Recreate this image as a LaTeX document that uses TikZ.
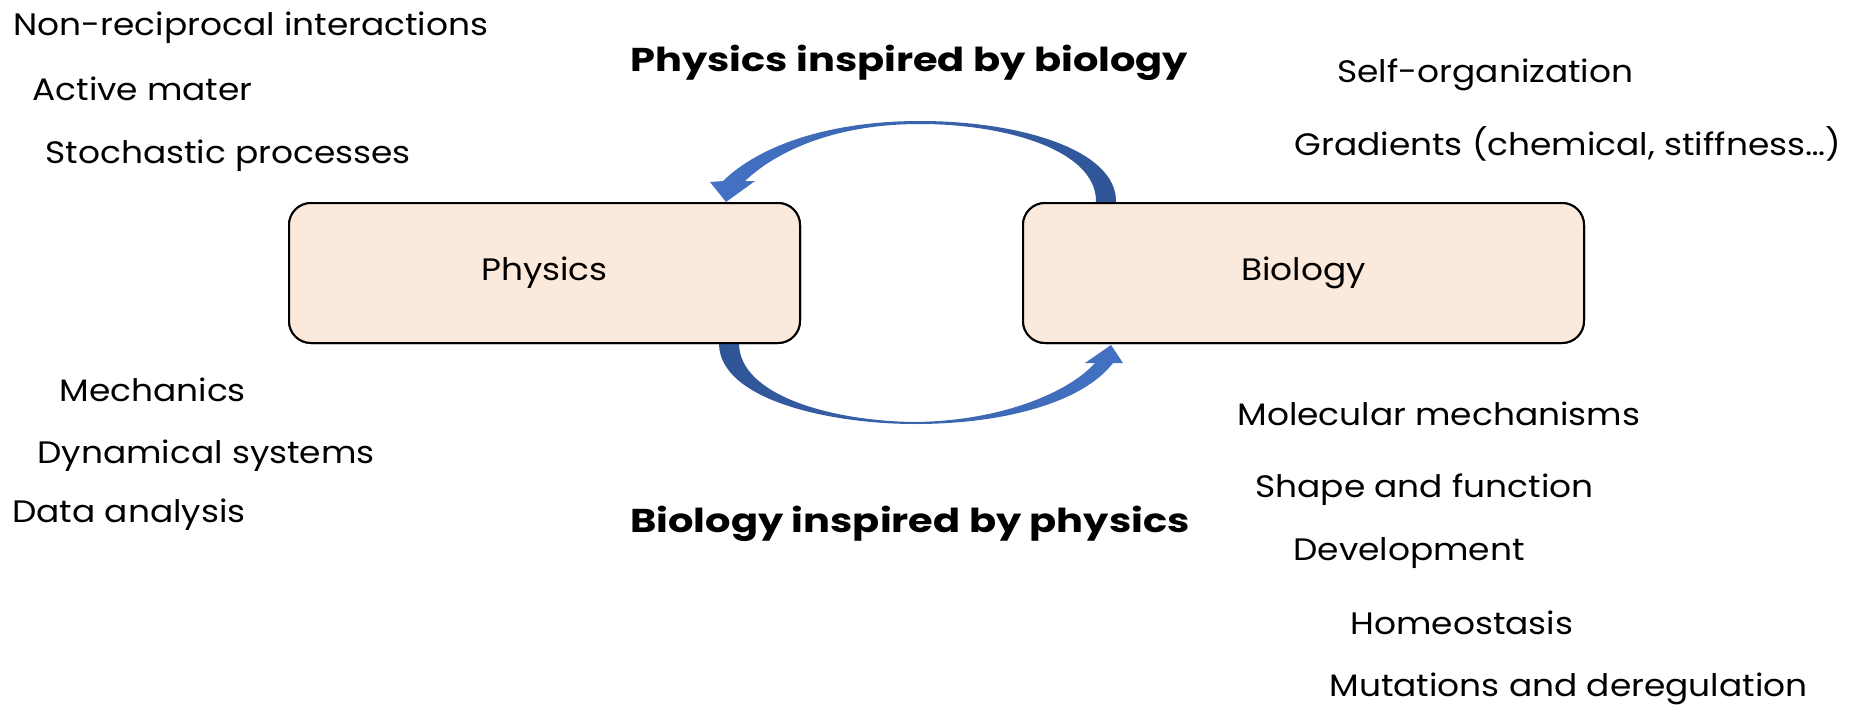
\documentclass[tikz,border=0pt]{standalone}
\usepackage{fontspec}
\setmainfont{Poppins}[FakeStretch=1.11]
\newfontfamily\headfont{Poppins}[FakeStretch=1.21]
\usetikzlibrary{calc}
\definecolor{boxfill}{RGB}{251,233,219}
\definecolor{arrowdark}{RGB}{47,85,151}
\definecolor{arrowlight}{RGB}{68,114,196}
\begin{document}
\begin{tikzpicture}[x=0.5pt,y=-0.5pt,
  field/.style={draw=black,line width=1pt,fill=boxfill,rounded corners=11pt,
    minimum height=70pt,inner sep=0pt,font=\fontsize{15.5}{18}\selectfont},
  topic/.style={anchor=base west,inner sep=0pt,font=\fontsize{15.5}{18}\selectfont},
  headline/.style={anchor=base west,inner sep=0pt,font=\headfont\bfseries\fontsize{16.5}{20}\selectfont}]
\useasboundingbox (0,0) rectangle (1865,712);

% the two fields
\path (544.5,273) node[field,minimum width=255.5pt] (phys) {Physics};
\path (1303.5,273) node[field,minimum width=280.5pt] (bio) {Biology};

% tails and tips of the curved arrows, taken from the boxes
\coordinate (topTailR) at ($(bio.north west)+(94,0)$);
\coordinate (topTailL) at ($(bio.north west)+(74,0)$);
\coordinate (topTip)   at ($(phys.north west)+(438,0)$);
\coordinate (botTailL) at ($(phys.south west)+(431,0)$);
\coordinate (botTailR) at ($(phys.south west)+(451,0)$);
\coordinate (botTip)   at ($(bio.south west)+(89,1)$);

% Biology -> Physics (over the top)
\shade[left color=arrowlight,right color=arrowdark]
  (topTailR) .. controls (1117,150) and (1020,121) .. (920,121)
  .. controls (830,121) and (760,145) .. (723,181)
  -- (710,182) -- (topTip) -- (755,181) -- (745,181)
  .. controls (780,148) and (840,124) .. (920,124)
  .. controls (1005,124) and (1097,150) .. (topTailL) -- cycle;

% Physics -> Biology (underneath)
\shade[left color=arrowdark,right color=arrowlight]
  (botTailL) .. controls (720,400) and (830,424) .. (915,424)
  .. controls (1010,424) and (1085,400) .. (1113,363)
  -- (1123,363) -- (botTip) -- (1085,363) -- (1095,363)
  .. controls (1068,393) and (1000,421) .. (915,422)
  .. controls (830,421) and (740,395) .. (botTailR) -- cycle;

% redraw the fields so their borders sit over the arrow ends
\path (544.5,273) node[field,minimum width=255.5pt] {Physics};
\path (1303.5,273) node[field,minimum width=280.5pt] {Biology};

% headlines
\node[headline] (up) at (630,71) {Physics inspired by biology};
\node[headline] (down) at (630,532) {Biology inspired by physics};

% physics topics
\node[topic] (p1) at (13,35) {Non-reciprocal interactions};
\node[topic] (p2) at (32,100) {Active mater};
\node[topic] (p3) at (45,163) {Stochastic processes};
\node[topic] (p4) at (59,401) {Mechanics};
\node[topic] (p5) at (37,463) {Dynamical systems};
\node[topic] (p6) at (12,522) {Data analysis};

% biology topics
\node[topic] (b1) at (1337,82) {Self-organization};
\node[topic] (b2) at (1294,155) {Gradients (chemical, stiffness…)};
\node[topic] (b3) at (1237,425) {Molecular mechanisms};
\node[topic] (b4) at (1255,497) {Shape and function};
\node[topic] (b5) at (1293,560) {Development};
\node[topic] (b6) at (1350,634) {Homeostasis};
\node[topic] (b7) at (1329,696) {Mutations and deregulation};
\end{tikzpicture}
\end{document}
